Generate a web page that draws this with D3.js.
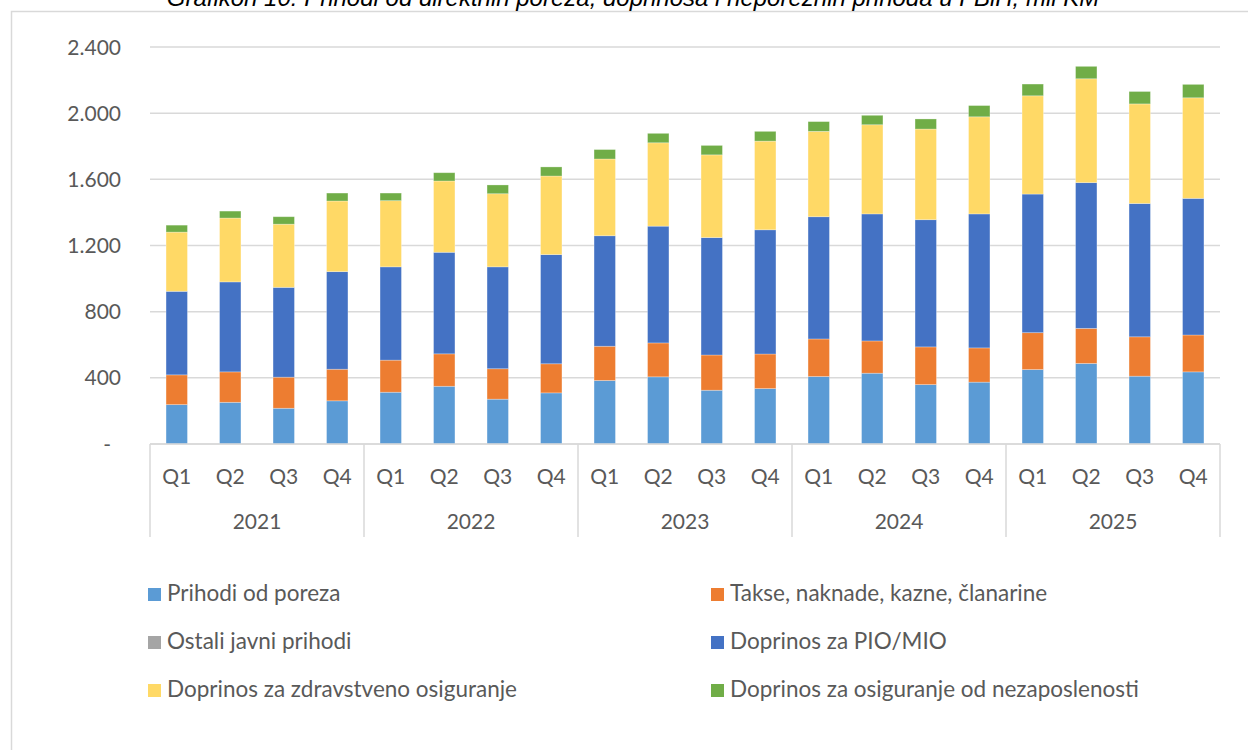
<!DOCTYPE html>
<html>
<head>
<meta charset="utf-8">
<script src="https://cdn.jsdelivr.net/npm/d3@7"></script>
<style>
  body { margin: 0; background: #fff; overflow: hidden; }
  svg { display: block; }
</style>
</head>
<body>
<svg id="chart"></svg>
<script>
// data (mil KM)
var years = ["2021", "2022", "2023", "2024", "2025"];
var quarters = ["Q1", "Q2", "Q3", "Q4"];
var seriesNames = ["Prihodi od poreza", "Takse, naknade, kazne, članarine", "Ostali javni prihodi",
                   "Doprinos za PIO/MIO", "Doprinos za zdravstveno osiguranje", "Doprinos za osiguranje od nezaposlenosti"];
var porez   = [238, 252, 216, 261, 313, 349, 271, 309, 384, 406, 325, 335, 408, 428, 359, 374, 450, 487, 410, 436];
var takse   = [180, 184, 188, 191, 194, 196, 184, 176, 207, 205, 213, 209, 227, 195, 228, 207, 223, 212, 238, 223];
var ostali  = [0, 0, 0, 0, 0, 0, 0, 0, 0, 0, 0, 0, 0, 0, 0, 0, 0, 0, 0, 0];
var pio     = [505, 544, 543, 590, 564, 614, 616, 660, 668, 706, 710, 751, 739, 768, 769, 810, 838, 881, 806, 826];
var zdrav   = [358, 386, 382, 427, 400, 431, 442, 475, 464, 504, 500, 536, 516, 539, 548, 587, 594, 628, 602, 608];
var nezap   = [42, 42, 45, 48, 46, 50, 53, 55, 57, 57, 57, 59, 59, 57, 61, 68, 71, 75, 75, 81];
var yTicks  = [0, 400, 800, 1200, 1600, 2000, 2400];

var colors = ["#5B9BD5", "#ED7D31", "#A5A5A5", "#4472C4", "#FFD966", "#70AD47"];
var keys = ["porez", "takse", "ostali", "pio", "zdrav", "nezap"];
var txtColor = "#595959", gridColor = "#D9D9D9";
var fontFam = "Lato, 'Open Sans', sans-serif";

var svgWidth = 1248, svgHeight = 750;
var svg = d3.select("#chart")
  .attr("width", svgWidth)
  .attr("height", svgHeight);

// build table of rows (one per quarter)
var rows = [];
years.forEach(function(y, yi) {
  quarters.forEach(function(q, qi) {
    var i = yi * 4 + qi;
    rows.push({ id: y + "-" + q, year: y, q: q, porez: porez[i], takse: takse[i], ostali: ostali[i],
                pio: pio[i], zdrav: zdrav[i], nezap: nezap[i] });
  });
});

// chart frame (runs off the page on the right/bottom)
svg.append("rect")
  .attr("x", 11.5).attr("y", 11.5)
  .attr("width", 1300).attr("height", 800)
  .attr("fill", "#fff")
  .attr("stroke", gridColor)
  .attr("stroke-width", 1.5);

// title, cut off at the top like in the picture
svg.append("text")
  .attr("x", 633).attr("y", 6)
  .attr("text-anchor", "middle")
  .attr("font-family", "'Liberation Sans', Arial, sans-serif")
  .attr("font-style", "italic")
  .attr("font-size", 24)
  .attr("fill", "#000")
  .text("Grafikon 10: Prihodi od direktnih poreza, doprinosa i neporeznih prihoda u FBiH, mil KM");

var plotLeft = 150, plotRight = 1220, plotTop = 47, plotBottom = 444;

var xScale = d3.scaleBand()
  .domain(rows.map(function(d) { return d.id; }))
  .range([plotLeft, plotRight])
  .paddingInner(0.6)
  .paddingOuter(0.3);

var yScale = d3.scaleLinear()
  .domain([0, 2400])
  .range([plotBottom, plotTop]);

var xYear = d3.scaleBand()
  .domain(years)
  .range([plotLeft, plotRight]);

// gridlines
svg.append("g")
  .selectAll("line")
  .data(yTicks)
  .enter().append("line")
  .attr("x1", plotLeft).attr("x2", plotRight)
  .attr("y1", function(d) { return yScale(d); })
  .attr("y2", function(d) { return yScale(d); })
  .attr("stroke", gridColor)
  .attr("stroke-width", 1.5);

// y labels
svg.append("g")
  .selectAll("text")
  .data(yTicks)
  .enter().append("text")
  .attr("x", function(d) { return d == 0 ? 111 : 121; })
  .attr("y", function(d) { return yScale(d) + 7.5; })
  .attr("text-anchor", "end")
  .attr("font-family", fontFam)
  .attr("font-size", 21)
  .attr("fill", txtColor)
  .text(function(d) { return d == 0 ? "-" : d3.format(",")(d).replace(/,/g, "."); });

// stacked bars
var stack = d3.stack().keys(keys);
var layers = stack(rows);

svg.append("g")
  .selectAll("g")
  .data(layers)
  .enter().append("g")
  .attr("fill", function(d, i) { return colors[i]; })
  .selectAll("rect")
  .data(function(d) { return d; })
  .enter().append("rect")
  .attr("x", function(d) { return xScale(d.data.id); })
  .attr("width", xScale.bandwidth())
  .attr("y", function(d) { return yScale(d[1]); })
  .attr("height", function(d) { return yScale(d[0]) - yScale(d[1]); })
  .attr("stroke", "rgba(255,255,255,0.35)")
  .attr("stroke-width", 0.8);

// category axis: quarter labels, year labels and separators
var axisG = svg.append("g");

axisG.append("line")
  .attr("x1", plotLeft).attr("x2", plotRight)
  .attr("y1", plotBottom).attr("y2", plotBottom)
  .attr("stroke", gridColor)
  .attr("stroke-width", 1.5);

var seps = years.map(function(y) { return xYear(y); }).concat([plotRight]);
axisG.selectAll(".sep")
  .data(seps)
  .enter().append("line")
  .attr("class", "sep")
  .attr("x1", function(d) { return d; }).attr("x2", function(d) { return d; })
  .attr("y1", plotBottom).attr("y2", 537)
  .attr("stroke", gridColor)
  .attr("stroke-width", 1.5);

axisG.selectAll(".qlab")
  .data(rows)
  .enter().append("text")
  .attr("class", "qlab")
  .attr("x", function(d) { return xScale(d.id) + xScale.bandwidth() / 2; })
  .attr("y", 484)
  .attr("text-anchor", "middle")
  .attr("font-family", fontFam)
  .attr("font-size", 21)
  .attr("fill", txtColor)
  .text(function(d) { return d.q; });

axisG.selectAll(".ylab")
  .data(years)
  .enter().append("text")
  .attr("class", "ylab")
  .attr("x", function(d) { return xYear(d) + xYear.bandwidth() / 2; })
  .attr("y", 529)
  .attr("text-anchor", "middle")
  .attr("font-family", fontFam)
  .attr("font-size", 21)
  .attr("fill", txtColor)
  .text(function(d) { return d; });

// Legend stuff - 2 columns, 3 rows
var legend = svg.append("g")
  .selectAll("g")
  .data(seriesNames)
  .enter().append("g")
  .attr("transform", function(d, i) {
    var col = i % 2, row = Math.floor(i / 2);
    return "translate(" + (col == 0 ? 148 : 711) + "," + (601 + row * 48) + ")";
  });

legend.append("rect")
  .attr("x", 0).attr("y", -13)
  .attr("width", 13).attr("height", 13)
  .attr("fill", function(d, i) { return colors[i]; });

legend.append("text")
  .attr("x", 19)
  .attr("y", 0)
  .attr("font-family", fontFam)
  .attr("font-size", 22.5)
  .attr("fill", txtColor)
  .text(function(d) { return d; });
</script>
</body>
</html>
